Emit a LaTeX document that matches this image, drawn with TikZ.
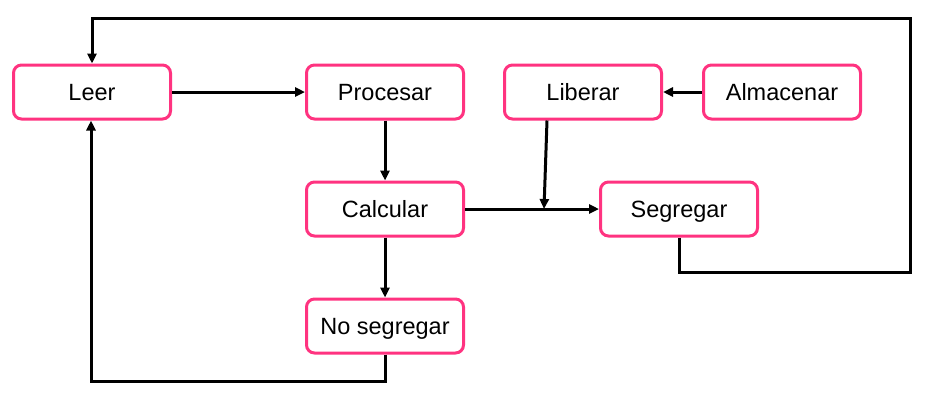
\documentclass[tikz,border=0pt]{standalone}
\usepackage{fontspec}
\setmainfont{Liberation Sans}
\usetikzlibrary{arrows.meta}
\definecolor{boxpink}{RGB}{255,51,128}
\tikzset{
  box/.style={draw=boxpink, line width=3pt, rounded corners=8pt, fill=white,
    minimum width=157pt, minimum height=54pt, inner sep=0pt,
    text height=17pt, text depth=0pt,
    font=\fontsize{23.5}{26}\selectfont},
  conn/.style={line width=3pt, -{Triangle[length=10pt,width=9pt]}}
}
\begin{document}
\begin{tikzpicture}[x=1pt,y=-1pt]
\useasboundingbox (0,0) rectangle (925,400);
\node[box] (leer) at (92,92) {Leer};
\node[box] (proc) at (385,92) {Procesar};
\node[box] (lib) at (583,92) {Liberar};
\node[box] (alm) at (782,92) {Almacenar};
\node[box] (calc) at (385,209) {Calcular};
\node[box] (seg) at (679,209) {Segregar};
\node[box] (noseg) at (385,326) {No segregar};
\coordinate (j) at (544,209);
\coordinate (tr) at (910,18);
\coordinate (br) at (910,272);
\coordinate (bl) at (91,381);
\draw[conn] (leer) -- (proc);
\draw[conn] (alm) -- (lib);
\draw[conn] (proc) -- (calc);
\draw[conn] (calc) -- (seg);
\draw[conn] (calc) -- (noseg);
\draw[conn] ([xshift=-36pt]lib.south) -- (j);
\draw[conn] (seg.south) |- (br) -- (tr) -| (leer.north);
\draw[conn] (noseg.south) |- (bl) -- (leer.south -| bl);
\end{tikzpicture}
\end{document}
